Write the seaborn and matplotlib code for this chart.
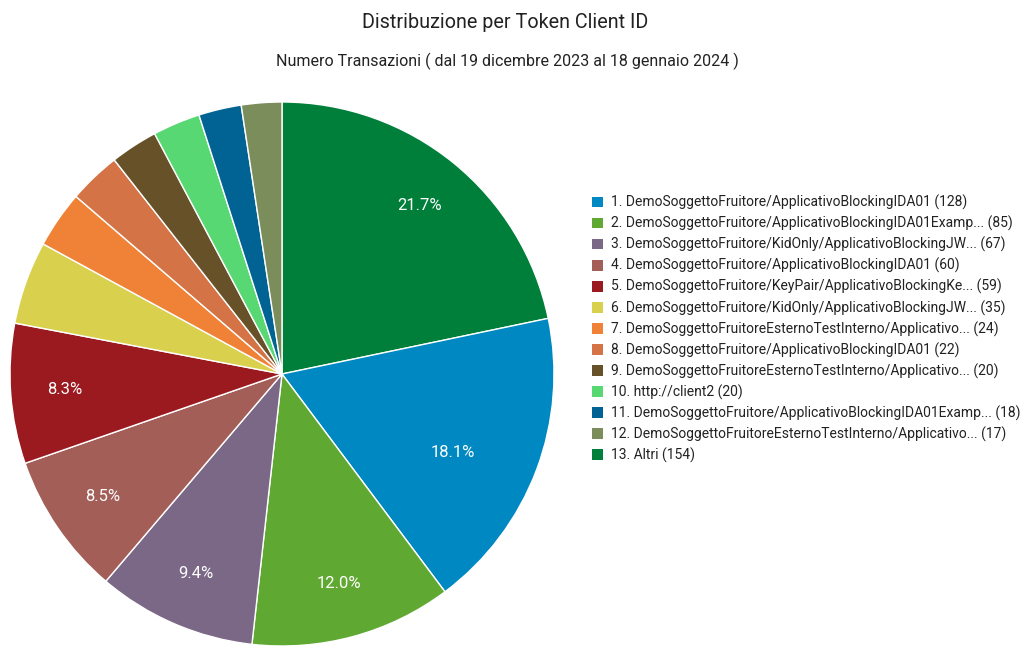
import matplotlib
matplotlib.use("Agg")
import numpy as np
import matplotlib.pyplot as plt
from matplotlib.patches import Patch
import seaborn as sns

sns.set_theme(style="white")
plt.rcParams["font.family"] = ["Roboto", "DejaVu Sans"]

# Transaction counts per token client id (legend order)
labels = [
    "1. DemoSoggettoFruitore/ApplicativoBlockingIDA01",
    "2. DemoSoggettoFruitore/ApplicativoBlockingIDA01Examp...",
    "3. DemoSoggettoFruitore/KidOnly/ApplicativoBlockingJW...",
    "4. DemoSoggettoFruitore/ApplicativoBlockingIDA01",
    "5. DemoSoggettoFruitore/KeyPair/ApplicativoBlockingKe...",
    "6. DemoSoggettoFruitore/KidOnly/ApplicativoBlockingJW...",
    "7. DemoSoggettoFruitoreEsternoTestInterno/Applicativo...",
    "8. DemoSoggettoFruitore/ApplicativoBlockingIDA01",
    "9. DemoSoggettoFruitoreEsternoTestInterno/Applicativo...",
    "10. http://client2",
    "11. DemoSoggettoFruitore/ApplicativoBlockingIDA01Examp...",
    "12. DemoSoggettoFruitoreEsternoTestInterno/Applicativo...",
    "13. Altri",
]
counts = [128, 85, 67, 60, 59, 35, 24, 22, 20, 20, 18, 17, 154]
colors = [
    "#0088c2", "#5fa831", "#7b6887", "#a35e57", "#9b1a20", "#d9d04d",
    "#ef8236", "#d47345", "#665128", "#58d873", "#016394", "#7c8d5c",
    "#007f3a",
]

title = "Distribuzione per Token Client ID"
subtitle = "Numero Transazioni ( dal 19 dicembre 2023 al 18 gennaio 2024 )"

W, H = 1024, 646
fig = plt.figure(figsize=(W / 100, H / 100), dpi=100)
fig.patch.set_facecolor("white")

# Pie axes: centre (282, 374) px, radius 272 px
cx, cy, r = 282, 374, 272
ax = fig.add_axes([(cx - r) / W, (H - cy - r) / H, 2 * r / W, 2 * r / H])
ax.set_axis_off()

# "Altri" is drawn first from 12 o'clock, then the ranked clients clockwise
order = [12] + list(range(12))
vals = [counts[i] for i in order]
cols = [colors[i] for i in order]


def pct_label(p):
    return f"{p:.1f}%" if p >= 6 else ""


wedges, texts, autotexts = ax.pie(
    vals,
    colors=cols,
    startangle=90,
    counterclock=False,
    autopct=pct_label,
    pctdistance=0.8,
    wedgeprops=dict(edgecolor="white", linewidth=1.0),
    textprops=dict(color="white", fontsize=12),
)

# Nudge the large blue slice's label inwards and slightly clockwise
label_tweak = {1: (0.69, -4.0)}  # wedge index: (radius, angle shift in degrees)
for k, (w, t) in enumerate(zip(wedges, autotexts)):
    if k in label_tweak:
        rr, dang = label_tweak[k]
        ang = np.deg2rad((w.theta1 + w.theta2) / 2 + dang)
        t.set_position((rr * np.cos(ang), rr * np.sin(ang)))

ax.set_xlim(-1.0, 1.0)
ax.set_ylim(-1.0, 1.0)
ax.set_aspect("equal")

fig.text(505 / W, 1 - 22 / H, title, ha="center", va="center", fontsize=14.2, color="#222222")
fig.text(507 / W, 1 - 61 / H, subtitle, ha="center", va="center", fontsize=11.5, color="#222222")

# Legend rows
handles = [Patch(facecolor=c, edgecolor="none") for c in colors]
leg_labels = [f"{l} ({v})" for l, v in zip(labels, counts)]
leg = fig.legend(
    handles, leg_labels,
    loc="upper left",
    bbox_to_anchor=(592 / W, 1 - 195 / H),
    frameon=False,
    fontsize=10.0,
    handlelength=0.8,
    handleheight=0.8,
    handletextpad=0.55,
    labelspacing=0.41,
    borderpad=0,
    borderaxespad=0,
)
for t in leg.get_texts():
    t.set_color("#222222")

fig.savefig("out.png", dpi=100, facecolor="white")
